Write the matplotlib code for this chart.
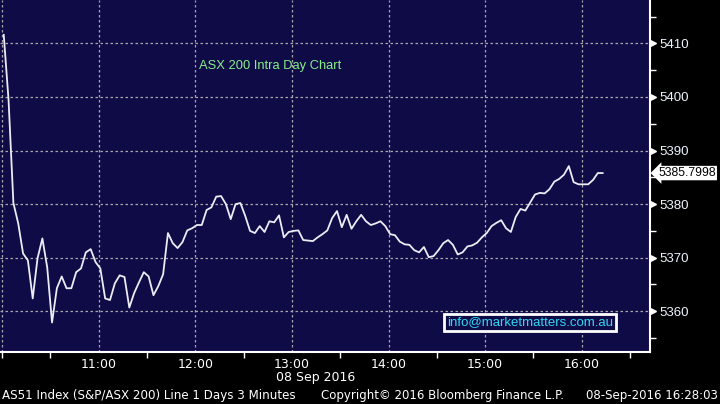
import numpy as np
import matplotlib
matplotlib.use("Agg")
import matplotlib.pyplot as plt
from matplotlib.ticker import FixedLocator, FuncFormatter
import matplotlib.transforms as mtransforms

# ASX 200 intraday, 3 minute bars starting 10:01
values = [
    5411.6, 5399.4, 5380.2, 5376.4, 5370.8, 5369.5, 5362.4, 5369.9, 5373.6, 5368.2,
    5357.9, 5364.3, 5366.5, 5364.3, 5364.3, 5367.3, 5368.0, 5371.0, 5371.6, 5369.2,
    5368.0, 5362.4, 5362.1, 5365.2, 5366.7, 5366.4, 5360.7, 5363.4, 5365.4, 5367.3,
    5366.5, 5363.0, 5364.7, 5366.9, 5374.6, 5372.7, 5371.8, 5372.9, 5375.1, 5375.5,
    5376.1, 5376.1, 5378.9, 5379.4, 5381.4, 5381.5, 5380.0, 5377.2, 5380.0, 5380.2,
    5377.8, 5375.0, 5374.6, 5375.9, 5374.8, 5376.8, 5376.6, 5377.9, 5373.8, 5374.8,
    5375.0, 5375.1, 5373.3, 5373.2, 5373.1, 5373.8, 5374.4, 5375.1, 5377.4, 5378.7,
    5375.7, 5378.0, 5375.4, 5376.8, 5378.0, 5376.8, 5376.1, 5376.4, 5376.8, 5375.9,
    5374.4, 5374.2, 5373.0, 5372.5, 5372.4, 5371.4, 5371.0, 5372.0, 5370.1, 5370.3,
    5371.4, 5372.7, 5373.3, 5372.4, 5370.6, 5371.0, 5372.1, 5372.3, 5372.8, 5373.8,
    5374.6, 5375.9, 5376.5, 5377.0, 5375.5, 5374.8, 5377.6, 5379.1, 5378.8, 5380.3,
    5381.8, 5382.1, 5382.0, 5382.8, 5384.2, 5384.7, 5385.5, 5387.1, 5384.1, 5383.7,
    5383.7, 5383.7, 5384.5, 5385.8, 5385.8,
]
last_label = "5385.7998"
hour_ticks = [10, 11, 12, 13, 14, 15, 16]
sep_ticks = [10.0, 10.5, 11.5, 12.5, 13.5, 14.5, 15.5, 16.5]
y_major = [5360, 5370, 5380, 5390, 5400, 5410]
y_minor = [5355, 5365, 5375, 5385, 5395, 5405, 5415]

# x position in hours (bar time)
hours = 10 + (1 + 3 * np.arange(len(values))) / 60.0

BG = "#0f0b47"
W, H = 720, 404
NARROW = "Liberation Sans"

fig = plt.figure(figsize=(W / 100, H / 100), dpi=100, facecolor="black")
ax = fig.add_axes([0, 1 - 352 / H, 650 / W, 352 / H])
ax.set_facecolor(BG)

ax.plot(hours, values, color="#ececf4", lw=1.3, zorder=3)

ax.set_xlim(9.978, 16.707)
ax.set_ylim(5352.4, 5418.1)

# spines
for s in ["left", "top"]:
    ax.spines[s].set_visible(False)
for s in ["right", "bottom"]:
    ax.spines[s].set_color("white")
    ax.spines[s].set_linewidth(1.5)

# grid
ax.xaxis.set_major_locator(FixedLocator(hour_ticks))
ax.yaxis.set_major_locator(FixedLocator(y_major))
ax.grid(True, color="#a8a8a8", lw=0.9, linestyle=(0, (2, 2)))
ax.set_axisbelow(True)

# x axis
ax.xaxis.remove_overlapping_locs = False
ax.xaxis.set_minor_locator(FixedLocator(sep_ticks))
ax.xaxis.set_major_formatter(FuncFormatter(lambda v, p: "" if v == 10 else "%d:00" % v))
ax.tick_params(axis="x", which="major", length=0, pad=4, labelsize=9, labelcolor="white")
ax.tick_params(axis="x", which="minor", length=4, width=1, color="white")

# y axis on right
ax.yaxis.tick_right()
ax.yaxis.set_minor_locator(FixedLocator(y_minor))
ax.tick_params(axis="y", which="major", length=0, pad=7, labelsize=9.5, labelcolor="#eef4ff")
ax.tick_params(axis="y", which="minor", length=4, width=1, color="white")
for lab in ax.get_yticklabels():
    lab.set_family(NARROW)

arrow_tr = mtransforms.offset_copy(ax.get_yaxis_transform(), fig=fig, x=3, units="dots")
ax.plot([1] * len(y_major), y_major, ls="none", marker=">", ms=5, color="white",
        transform=arrow_tr, clip_on=False)

# last value tag
ax.text(1.0125, values[-1], last_label, transform=ax.get_yaxis_transform(),
        ha="left", va="center", fontsize=8.8, color="black", family=NARROW,
        bbox=dict(boxstyle="larrow,pad=0.1", fc="white", ec="none"), clip_on=False)

# texts
fig.text(199 / W, 1 - 66 / H, "ASX 200 Intra Day Chart", color="#86f08a", fontsize=9.3,
         ha="left", va="center", family=NARROW)
ax.text(0.815, 0.084, "info@marketmatters.com.au", transform=ax.transAxes,
        color="#2fd8f5", fontsize=9.5, ha="center", va="center", family=NARROW,
        bbox=dict(boxstyle="square,pad=0.22", fc=BG, ec="white", lw=2))
fig.text(316 / W, 1 - 378 / H, "08 Sep 2016", color="white", fontsize=9,
         ha="center", va="center")
fig.text(2 / W, 1 - 396 / H, "AS51 Index (S&P/ASX 200) Line 1 Days 3 Minutes",
         color="white", fontsize=8.6, ha="left", va="center")
fig.text(321 / W, 1 - 396 / H, "Copyright\u00a9 2016 Bloomberg Finance L.P.",
         color="white", fontsize=8.5, ha="left", va="center")
fig.text(718 / W, 1 - 396 / H, "08-Sep-2016 16:28:03", color="white", fontsize=8.5,
         ha="right", va="center")

fig.savefig("out.png", dpi=100, facecolor="black")
